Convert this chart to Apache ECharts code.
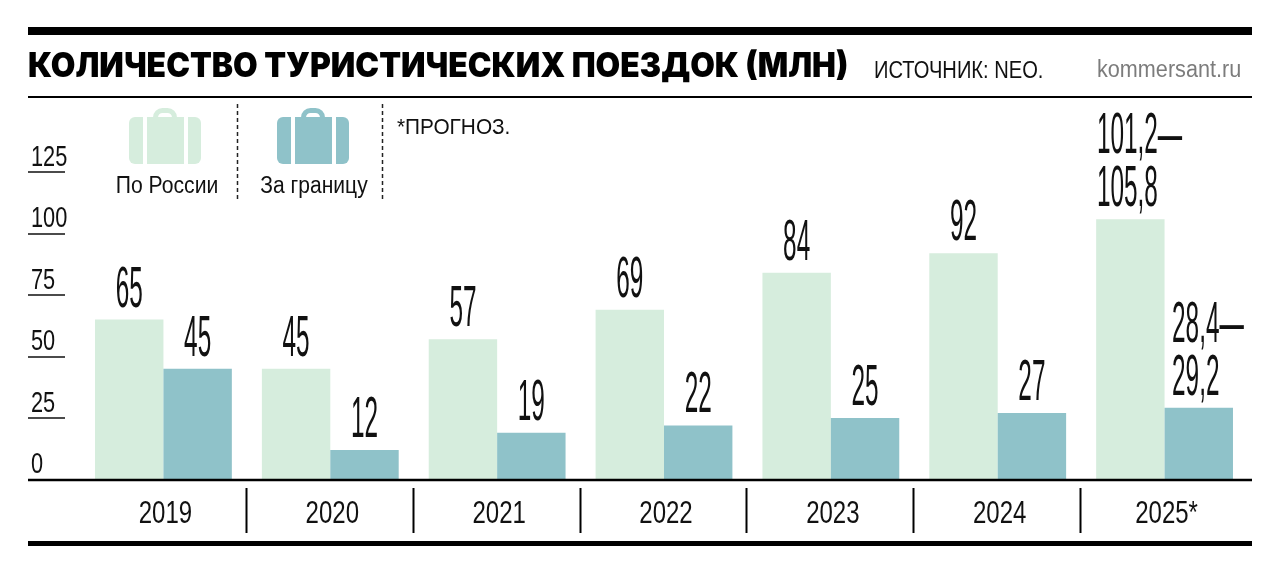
<!DOCTYPE html>
<html>
<head>
<meta charset="utf-8">
<style>
  html, body { margin: 0; background: #fff; }
  #chart { width: 1280px; height: 572px; }
</style>
<script src="https://cdn.jsdelivr.net/npm/echarts@6/dist/echarts.min.js"></script>
</head>
<body>
<div id="chart"></div>
<script>
const years = ['2019', '2020', '2021', '2022', '2023', '2024', '2025*'];
const yTicks = [0, 25, 50, 75, 100, 125];
const russia = [65, 45, 57, 69, 84, 92, 105.8];
const abroad = [45, 12, 19, 22, 25, 27, 29.2];
const russiaLabels = ['65', '45', '57', '69', '84', '92', '101,2—\n105,8'];
const abroadLabels = ['45', '12', '19', '22', '25', '27', '28,4—\n29,2'];

const LIGHT = '#d6eddd';
const TEAL = '#8fc2c9';
const INK = '#111';
const SANS = '"Liberation Sans", sans-serif';

// the paper's condensed face isn't installed, so text gets squeezed with scaleX
const LABEL_FONT = '58px ' + SANS;
const LABEL_SCALE = 0.42;
const measure = document.createElement('canvas').getContext('2d');
measure.font = LABEL_FONT;

function labelSeries(name, values, labels, side) {
  return {
    type: 'custom',
    name: name + ' подписи',
    silent: true,
    clip: false,
    z: 5,
    encode: { x: 0, y: 1 },
    data: values.map((v, i) => [i, v]),
    renderItem: function (params, api) {
      const i = api.value(0);
      const pt = api.coord([i, api.value(1)]);
      const band = api.size([1, 0])[0];
      const cx = pt[0] + side * band * 0.205;
      const lines = labels[i].split('\n');
      const w = measure.measureText(lines[lines.length - 1]).width * LABEL_SCALE;
      const shift = lines.length > 1 ? 3 : 0;
      const children = lines.map((line, k) => ({
        type: 'text',
        x: cx - w / 2 - shift,
        y: pt[1] - (lines.length - 1 - k) * 53,
        scaleX: LABEL_SCALE,
        style: { text: line, font: LABEL_FONT, fill: INK, textAlign: 'left', textVerticalAlign: 'bottom' }
      }));
      return { type: 'group', children: children };
    }
  };
}

const yearSeries = {
  type: 'custom',
  name: 'годы',
  silent: true,
  clip: false,
  encode: { x: 0, y: 1 },
  data: years.map((y, i) => [i, 0]),
  renderItem: function (params, api) {
    const i = api.value(0);
    const pt = api.coord([i, 0]);
    return {
      type: 'text', x: pt[0] + 2, y: pt[1] + 34.5, scaleX: 0.75,
      style: { text: years[i], font: '32px ' + SANS, fill: INK, textAlign: 'center', textVerticalAlign: 'middle' }
    };
  }
};

const tickSeries = {
  type: 'custom',
  name: 'шкала',
  silent: true,
  clip: false,
  encode: { x: 0, y: 1 },
  data: yTicks.map(v => [0, v]),
  renderItem: function (params, api) {
    const v = api.value(1);
    return {
      type: 'text', x: 31, y: api.coord([0, v])[1], scaleX: 0.75,
      style: { text: String(v), font: '29px ' + SANS, fill: INK, textAlign: 'left', textVerticalAlign: 'bottom' }
    };
  }
};

function suitcase(x, color) {
  const part = (px, w, r) => ({
    type: 'rect', shape: { x: px, y: 9, width: w, height: 47, r: r }, style: { fill: color }
  });
  return {
    type: 'group', x: x, y: 108,
    children: [
      { type: 'rect', shape: { x: 26.5, y: 2.5, width: 19, height: 12, r: [7, 7, 0, 0] }, style: { fill: 'none', stroke: color, lineWidth: 5 } },
      part(0, 14, [6, 0, 0, 6]),
      part(18, 37, 0),
      part(59, 13, [0, 6, 6, 0])
    ]
  };
}

function hline(y, w) {
  return { type: 'line', z: 10, shape: { x1: 28, y1: y, x2: 1252, y2: y }, style: { stroke: '#000', lineWidth: w } };
}
function dashed(x) {
  return { type: 'line', shape: { x1: x, y1: 104, x2: x, y2: 201 }, style: { stroke: '#222', lineWidth: 1.5, lineDash: [4, 3] } };
}
function label(text, x, y, font, scaleX, fill, align) {
  return {
    type: 'text', x: x, y: y, scaleX: scaleX,
    style: { text: text, font: font, fill: fill || INK, textAlign: align || 'left', textVerticalAlign: 'middle' }
  };
}

const frame = [
  hline(31, 8),
  hline(97, 2),
  hline(480, 2.5),
  hline(543.5, 5),
  dashed(237.5),
  dashed(382.5),
  suitcase(129, LIGHT),
  suitcase(277, TEAL),
  label('КОЛИЧЕСТВО ТУРИСТИЧЕСКИХ ПОЕЗДОК (МЛН)', 28, 67, '900 34px Inter, sans-serif', 0.937, '#000'),
  label('ИСТОЧНИК: NEO.', 874, 71.5, '23px ' + SANS, 0.875),
  label('kommersant.ru', 1097, 70.5, '23px ' + SANS, 0.94, '#7c7c7c'),
  label('*ПРОГНОЗ.', 397, 128, '22px ' + SANS, 0.945),
  label('По России', 167, 186.5, '23px ' + SANS, 0.92, INK, 'center'),
  label('За границу', 314, 186.5, '23px ' + SANS, 0.915, INK, 'center')
];

const chart = echarts.init(document.getElementById('chart'));
chart.setOption({
  animation: false,
  backgroundColor: '#fff',
  grid: { left: 80, width: 1168, top: 172, height: 307.5 },
  xAxis: {
    type: 'category',
    data: years,
    axisLine: { show: false },
    axisTick: { show: false },
    axisLabel: { show: false }
  },
  yAxis: {
    type: 'value',
    min: 0,
    max: 125,
    interval: 25,
    offset: 15,
    splitLine: { show: false },
    axisLine: { show: false },
    axisTick: { show: true, length: 37, lineStyle: { color: INK, width: 1.5 } },
    axisLabel: { show: false }
  },
  series: [
    { type: 'bar', name: 'По России', data: russia, barGap: 0, barCategoryGap: '18%', itemStyle: { color: LIGHT } },
    { type: 'bar', name: 'За границу', data: abroad, itemStyle: { color: TEAL } },
    labelSeries('По России', russia, russiaLabels, -1),
    labelSeries('За границу', abroad, abroadLabels, 1),
    yearSeries,
    tickSeries
  ],
  graphic: frame
});

// year separators sit on the band edges, except the outer two
const bandWidth = chart.convertToPixel({ xAxisIndex: 0 }, 1) - chart.convertToPixel({ xAxisIndex: 0 }, 0);
const separators = years.slice(0, -1).map((y, i) => {
  const x = Math.round(chart.convertToPixel({ xAxisIndex: 0 }, i) + bandWidth / 2) - 0.5;
  return { type: 'line', shape: { x1: x, y1: 488, x2: x, y2: 533 }, style: { stroke: '#000', lineWidth: 2 } };
});
chart.setOption({ graphic: frame.concat(separators) });
</script>
</body>
</html>
